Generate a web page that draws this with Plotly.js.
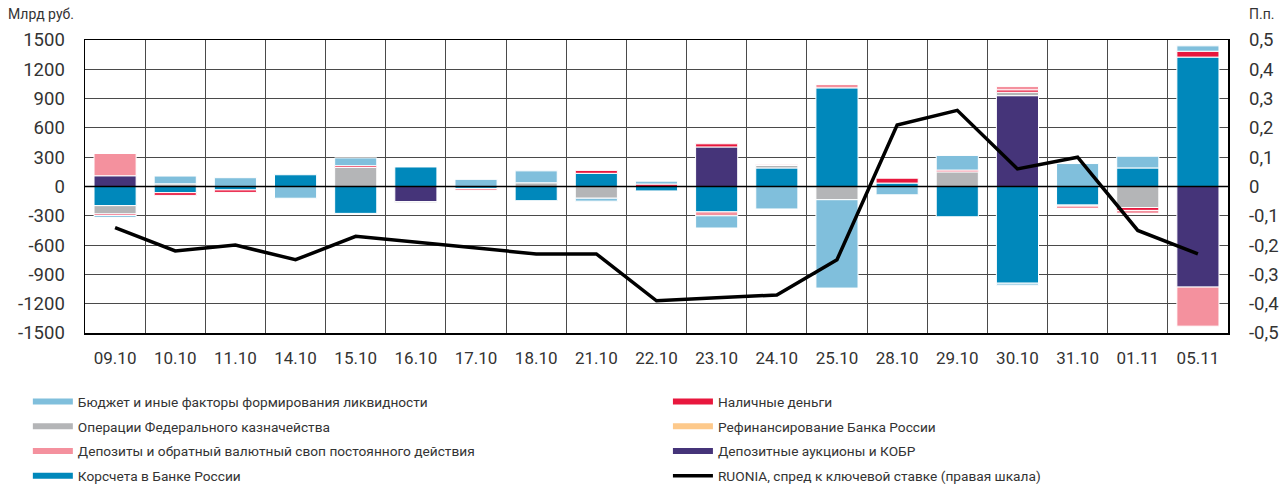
<!DOCTYPE html>
<html>
<head>
<meta charset="utf-8">
<script src="https://cdn.plot.ly/plotly-3.0.1.min.js"></script>
<style>html,body{margin:0;padding:0;background:#fff;}#chart{width:1286px;height:488px;}</style>
</head>
<body>
<div id="chart"></div>
<script>
// Categories (dates)
const dates = ['09.10','10.10','11.10','14.10','15.10','16.10','17.10','18.10','21.10','22.10','23.10','24.10','25.10','28.10','29.10','30.10','31.10','01.11','05.11'];

// Series, bln RUB
const korscheta   = [-196, -63, -35, 120, -275, 200, -20, -145, 135, -45, -260, 190, 1010, 35, -310, -990, -190, 190, 1325];
const depAuctions = [110, null, null, null, null, -155, null, null, null, null, 405, null, null, null, null, 930, null, null, -1030];
const refinancing = [null, null, null, null, null, null, null, null, null, null, null, null, null, null, null, null, null, null, null];
const treasury    = [-85, 27, null, null, 195, -12, null, 38, -120, null, null, 25, -135, null, 150, 35, -10, -215, null];
const cash        = [-15, -28, -25, null, 18, null, null, null, 30, 25, 32, null, null, 50, 18, 25, null, -30, 60];
const deposits    = [228, null, null, null, null, null, -20, null, null, null, -40, 12, 35, null, null, 35, -25, -30, -400];
const budget      = [-20, 80, 90, -120, 80, null, 73, 122, -30, 30, -125, -230, -905, -85, 150, -20, 235, 120, 55];

// RUONIA spread to key rate, p.p. (right axis)
const ruonia = [-0.14, -0.22, -0.20, -0.25, -0.17, -0.19, -0.21, -0.23, -0.23, -0.39, -0.38, -0.37, -0.25, 0.21, 0.26, 0.06, 0.10, -0.15, -0.23];

// Tick labels
const leftTickVals = [-1500, -1200, -900, -600, -300, 0, 300, 600, 900, 1200, 1500];
const leftTickText = ['-1500', '-1200', '-900', '-600', '-300', '0', '300', '600', '900', '1200', '1500'];
const rightTickVals = [-0.5, -0.4, -0.3, -0.2, -0.1, 0, 0.1, 0.2, 0.3, 0.4, 0.5];
const rightTickText = ['-0,5', '-0,4', '-0,3', '-0,2', '-0,1', '0', '0,1', '0,2', '0,3', '0,4', '0,5'];

const names = {
  budget: 'Бюджет и иные факторы формирования ликвидности',
  treasury: 'Операции Федерального казначейства',
  deposits: 'Депозиты и обратный валютный своп постоянного действия',
  korscheta: 'Корсчета в Банке России',
  cash: 'Наличные деньги',
  refinancing: 'Рефинансирование Банка России',
  depAuctions: 'Депозитные аукционы и КОБР',
  ruonia: 'RUONIA, спред к ключевой ставке (правая шкала)'
};
const colors = {
  budget: '#80BFDC',
  treasury: '#B4B5B7',
  deposits: '#F4919E',
  korscheta: '#0088BB',
  cash: '#E8173D',
  refinancing: '#FDC98B',
  depAuctions: '#453479'
};

function barTrace(key, vals) {
  return {
    type: 'bar', x: dates, y: vals, name: names[key],
    marker: {color: colors[key], line: {color: '#ffffff', width: 1}},
    showlegend: false, hoverinfo: 'x+y+name'
  };
}
function legendTrace(key, legend) {
  return {
    type: 'scatter', mode: 'lines', x: [null], y: [null], name: names[key],
    line: {color: colors[key], width: 6}, legend: legend, legendgroup: key, hoverinfo: 'skip'
  };
}

const data = [
  barTrace('korscheta', korscheta),
  barTrace('depAuctions', depAuctions),
  barTrace('refinancing', refinancing),
  barTrace('treasury', treasury),
  barTrace('cash', cash),
  barTrace('deposits', deposits),
  barTrace('budget', budget),
  legendTrace('budget', 'legend'),
  legendTrace('treasury', 'legend'),
  legendTrace('deposits', 'legend'),
  legendTrace('korscheta', 'legend'),
  legendTrace('cash', 'legend2'),
  legendTrace('refinancing', 'legend2'),
  legendTrace('depAuctions', 'legend2'),
  {
    type: 'scatter', mode: 'lines', x: dates, y: ruonia, yaxis: 'y2', legendgroup: 'ruonia',
    name: names.ruonia, line: {color: '#000000', width: 3.5}, legend: 'legend2'
  }
];

const FONT = 'Roboto, "Open Sans", sans-serif';
const legendCommon = {
  orientation: 'v', bgcolor: 'rgba(0,0,0,0)', borderwidth: 0,
  font: {family: FONT, size: 13.7, color: '#333333'},
  itemwidth: 40, tracegroupgap: 4, xref: 'paper', yref: 'container',
  xanchor: 'left', yanchor: 'top',
  itemclick: false, itemdoubleclick: false
};

const layout = {
  width: 1286, height: 488,
  margin: {l: 85, r: 58, t: 40, b: 155},
  paper_bgcolor: '#ffffff', plot_bgcolor: '#ffffff',
  font: {family: FONT, size: 17, color: '#333333'},
  barmode: 'relative', bargap: 0.3,
  showlegend: true,
  xaxis: {
    type: 'category', tickson: 'boundaries', showgrid: true, gridcolor: '#4a4a4a', gridwidth: 1,
    showline: true, mirror: true, linecolor: '#000000', linewidth: 1.5,
    ticks: '', ticklabelstandoff: 9, tickfont: {family: FONT, size: 17, color: '#333333'},
    zeroline: false, fixedrange: true
  },
  yaxis: {
    range: [-1500, 1500], tickmode: 'array', tickvals: leftTickVals, ticktext: leftTickText,
    showgrid: true, gridcolor: '#4a4a4a', gridwidth: 1, zeroline: false,
    showline: true, mirror: true, linecolor: '#000000', linewidth: 1.5,
    ticks: '', ticklabelstandoff: 15, tickfont: {family: FONT, size: 18.5, color: '#333333'},
    fixedrange: true
  },
  yaxis2: {
    overlaying: 'y', side: 'right', range: [-0.5, 0.5], tickmode: 'array',
    tickvals: rightTickVals, ticktext: rightTickText, showgrid: false, zeroline: false,
    showline: false, ticks: '', ticklabelstandoff: 20,
    tickfont: {family: FONT, size: 18.5, color: '#333333'}, fixedrange: true
  },
  legend: Object.assign({}, legendCommon, {x: -0.05, y: 0.209}),
  legend2: Object.assign({}, legendCommon, {x: 0.51, y: 0.209}),
  shapes: [
    {type: 'line', xref: 'paper', yref: 'y', x0: 0, x1: 1, y0: 0, y1: 0,
     line: {color: '#000000', width: 1.5}, layer: 'above'}
  ],
  annotations: [
    {text: 'Млрд руб.', xref: 'paper', yref: 'paper', x: -0.069, y: 1.055, xanchor: 'left', yanchor: 'bottom',
     showarrow: false, font: {family: FONT, size: 14, color: '#333333'}},
    {text: 'П.п.', xref: 'paper', yref: 'paper', x: 1.017, y: 1.055, xanchor: 'left', yanchor: 'bottom',
     showarrow: false, font: {family: FONT, size: 14, color: '#333333'}}
  ]
};

Plotly.newPlot('chart', data, layout, {displayModeBar: false, staticPlot: true});
</script>
</body>
</html>
